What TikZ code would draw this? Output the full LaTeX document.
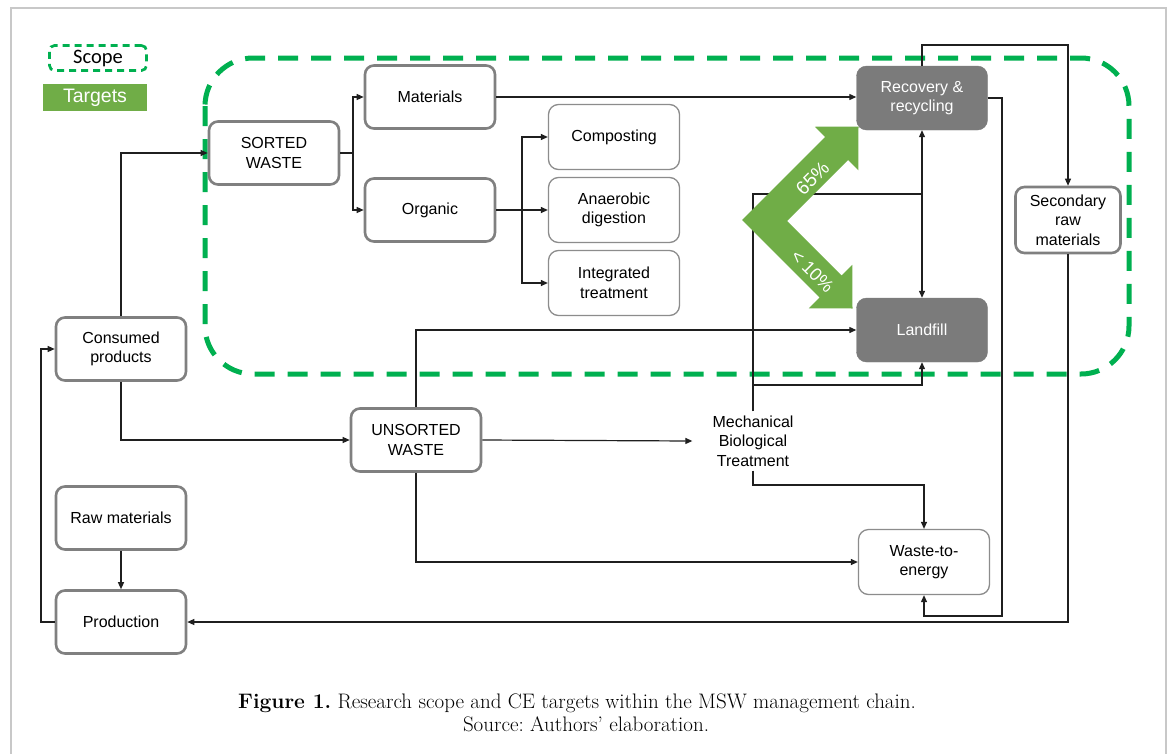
\documentclass[tikz,border=0pt]{standalone}
\usepackage{fontspec}
\setsansfont{Liberation Sans}
\newfontfamily\legfont{Carlito}
\usetikzlibrary{arrows.meta}
\definecolor{scopegreen}{HTML}{00B050}
\definecolor{targetgreen}{HTML}{70AD47}
\definecolor{boxgray}{HTML}{808080}
\definecolor{thingray}{HTML}{8C8C8C}
\definecolor{darkfill}{HTML}{7B7B7B}
\definecolor{framegray}{HTML}{C8C8C8}
\begin{document}
\frenchspacing
\begin{tikzpicture}[x=1pt,y=-1pt,
  every node/.style={font=\sffamily\fontsize{16}{19.5}\selectfont, align=center, inner sep=0pt},
  thickbox/.style={draw=boxgray, line width=2.6pt, rounded corners=9pt, fill=white, minimum width=130pt, minimum height=63pt},
  thinbox/.style={draw=thingray, line width=1.3pt, rounded corners=10pt, fill=white, minimum width=131pt, minimum height=65pt},
  darkbox/.style={fill=darkfill, draw=darkfill, rounded corners=10pt, minimum width=131pt, minimum height=64pt, text=white},
  conn/.style={line width=1.2pt, draw=black!88},
  tip/.tip={Triangle[length=7pt,width=6pt]},
  arr/.style={conn, -tip},
  pct/.style={text=white, font=\sffamily\fontsize{19}{22}\selectfont},
  captext/.style={font=\rmfamily\fontsize{21}{24}\selectfont, anchor=base},
]
\useasboundingbox (0,0) rectangle (1173,753);
\fill[white] (0,0) rectangle (1173,753);
\draw[framegray, line width=2pt] (11,760) -- (11,8) -- (1166,8) -- (1166,760);

% legend
\node[draw=scopegreen, line width=2.7pt, dash pattern=on 7pt off 5pt, rounded corners=5pt,
      minimum width=97pt, minimum height=25pt, font=\legfont\fontsize{20.5}{22}\selectfont] (scope) at (98,58) {Scope};
\node[fill=targetgreen, minimum width=104pt, minimum height=27pt, text=white,
      font=\sffamily\fontsize{19.5}{22}\selectfont] (targets) at (95,97.5) {Targets};

% scope region
\draw[scopegreen, line width=5pt, dash pattern=on 20pt off 13pt, rounded corners=48pt] (205,58) rectangle (1129,374);

% nodes
\node[thickbox] (sorted) at (274,153) {SORTED\\WASTE};
\node[thickbox] (materials) at (430,97) {Materials};
\node[thickbox] (organic) at (430,210) {Organic};
\node[thinbox] (compost) at (614,137) {Composting};
\node[thinbox] (anaer) at (614,210) {Anaerobic\\digestion};
\node[thinbox] (integ) at (614,283) {Integrated\\treatment};
\node[darkbox] (recovery) at (922,98) {Recovery \&\\recycling};
\node[darkbox] (landfill) at (922,330) {Landfill};
\node[thickbox, minimum width=105pt, minimum height=66pt] (secondary) at (1068,220) {Secondary\\raw\\materials};
\node[thickbox] (consumed) at (121,349) {Consumed\\products};
\node[thickbox] (unsorted) at (416,440) {UNSORTED\\WASTE};
\node[inner xsep=20pt, inner ysep=4pt] (mbt) at (753,441) {Mechanical\\Biological\\Treatment};
\node[thinbox] (wte) at (924,562) {Waste-to-\\energy};
\node[thickbox] (raw) at (121,518) {Raw materials};
\node[thickbox] (production) at (121,622) {Production};

% helper coordinates
\coordinate (sj) at (353,153);
\coordinate (oj) at (522,210);
\coordinate (rx) at (1002,616);
\coordinate (ytop) at (0,45);
\coordinate (mj) at (753,194);
\coordinate (ml) at (0,385);
\coordinate (mw) at (0,485);
\coordinate (xl) at (41,0);

% connectors
\draw[arr] (consumed.north) |- (sorted.west);
\draw[conn] (sorted.east) -- (sj);
\draw[arr] (sj) |- (materials.west);
\draw[arr] (sj) |- (organic.west);
\draw[arr] (materials.east) -- (materials.east -| recovery.west);
\draw[conn] (organic.east) -- (oj);
\draw[arr] (oj) |- (compost.west);
\draw[arr] (oj) -- (anaer.west);
\draw[arr] (oj) |- (integ.west);
\draw[arr] (recovery.east) -| (rx) -| (wte.south);
\draw[arr] (recovery.north) -- (recovery.north |- ytop) -| (secondary.north);
\draw[arr] (secondary.south) |- (production.east);
\draw[conn, tip-tip] (recovery.south) -- (landfill.north);
\draw[conn] (mbt.north) -- (mj) -- (mj -| recovery.south);
\draw[arr] (mbt.north |- ml) -| (landfill.south);
\draw[arr] (mbt.south) -- (mbt.south |- mw) -| (wte.north);
\draw[arr] (unsorted.east) -- (mbt.west);
\draw[arr] (unsorted.north) |- (landfill.west);
\draw[arr] (unsorted.south) |- (wte.west);
\draw[arr] (consumed.south) |- (unsorted.west);
\draw[arr] (raw.south) -- (production.north);
\draw[arr] (production.west) -- (production.west -| xl) |- (consumed.west);

% targets arrow
\fill[targetgreen] (742,220) -- (825,137) -- (814.75,126.75) -- (858.5,126.5) -- (858.25,170.25)
  -- (848,160) -- (787,221) -- (841.5,275.5) -- (852.25,264.75) -- (852.5,308.5)
  -- (808.75,308.25) -- (819.5,297.5) -- cycle;
\node[pct, rotate=45] (p65) at (812.5,178) {65\%};
\node[pct, rotate=-45, font=\sffamily\fontsize{18}{22}\selectfont] (p10) at (812.5,271) {< 10\%};

% caption
\node[captext] (cap1) at (577,708) {\textbf{Figure 1.} Research scope and CE targets within the MSW management chain.};
\node[captext] (cap2) at (586,731) {Source: Authors’ elaboration.};
\end{tikzpicture}
\end{document}
